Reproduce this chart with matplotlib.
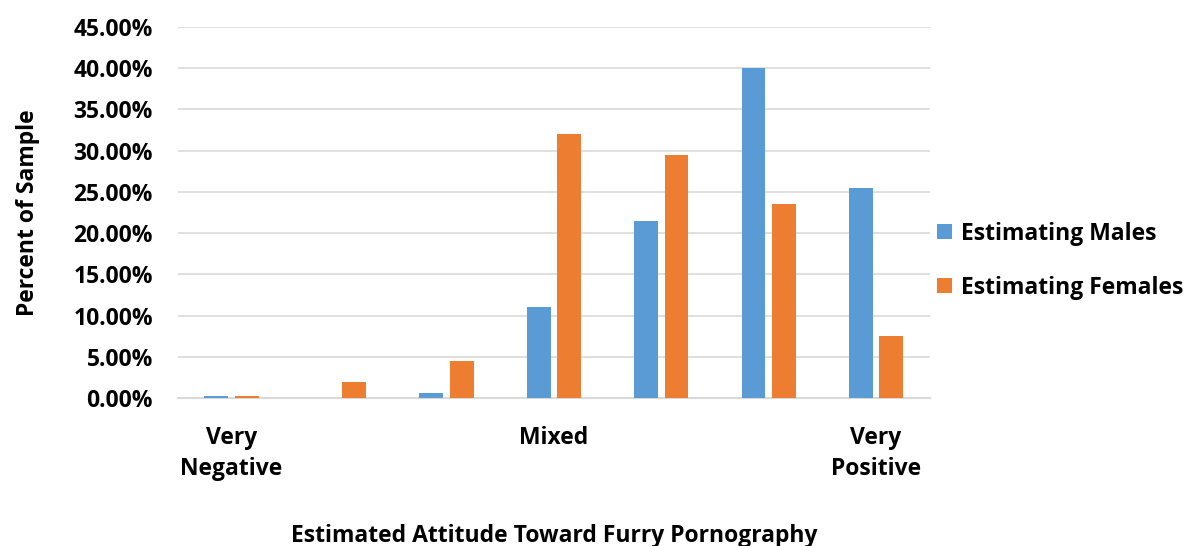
import numpy as np
import matplotlib.pyplot as plt
from matplotlib.ticker import FuncFormatter

categories = ['Very\nNegative', '', '', 'Mixed', '', '', 'Very\nPositive']
males = [0.2, 0.0, 0.55, 11.0, 21.5, 40.0, 25.5]
females = [0.2, 2.0, 4.5, 32.0, 29.5, 23.5, 7.5]

plt.rcParams['font.family'] = ['Open Sans', 'DejaVu Sans']
plt.rcParams['font.weight'] = 'bold'
fs = 16.5

fig = plt.figure(figsize=(11.86, 5.46), dpi=100)
ax = fig.add_axes([0.150, 0.271, 0.634, 0.6795])

x = np.arange(len(categories))
w = 0.223
gap = 0.06
ax.bar(x - (w + gap) / 2, males, w, color='#5B9BD5', label='Estimating Males', zorder=3)
ax.bar(x + (w + gap) / 2, females, w, color='#ED7D31', label='Estimating Females', zorder=3)

ax.set_xlim(-0.5, len(categories) - 0.5)
ax.set_ylim(0, 45)
ax.set_yticks(np.arange(0, 46, 5))
ax.yaxis.set_major_formatter(FuncFormatter(lambda v, p: f'{v:.2f}%'))
ax.set_xticks(x)
ax.set_xticklabels(categories, fontsize=fs, fontweight='bold', linespacing=1.4)
ax.tick_params(axis='y', labelsize=fs, length=0, pad=18)
ax.tick_params(axis='x', length=0, pad=20)

ax.grid(axis='y', color='#d9d9d9', linewidth=1.2, zorder=0)
for s in ['top', 'right', 'left']:
    ax.spines[s].set_visible(False)
ax.spines['bottom'].set_color('#d9d9d9')
ax.spines['bottom'].set_linewidth(1.5)

ax.set_ylabel('Percent of Sample', fontsize=fs, fontweight='bold', labelpad=24)
ax.set_xlabel('Estimated Attitude Toward Furry Pornography', fontsize=fs, fontweight='bold', labelpad=31)

ax.legend(loc='center left', bbox_to_anchor=(0.982, 0.37), frameon=False, fontsize=fs,
          handlelength=0.65, handleheight=0.65, handletextpad=0.4, labelspacing=1.3)

fig.savefig('out.png', dpi=100)
